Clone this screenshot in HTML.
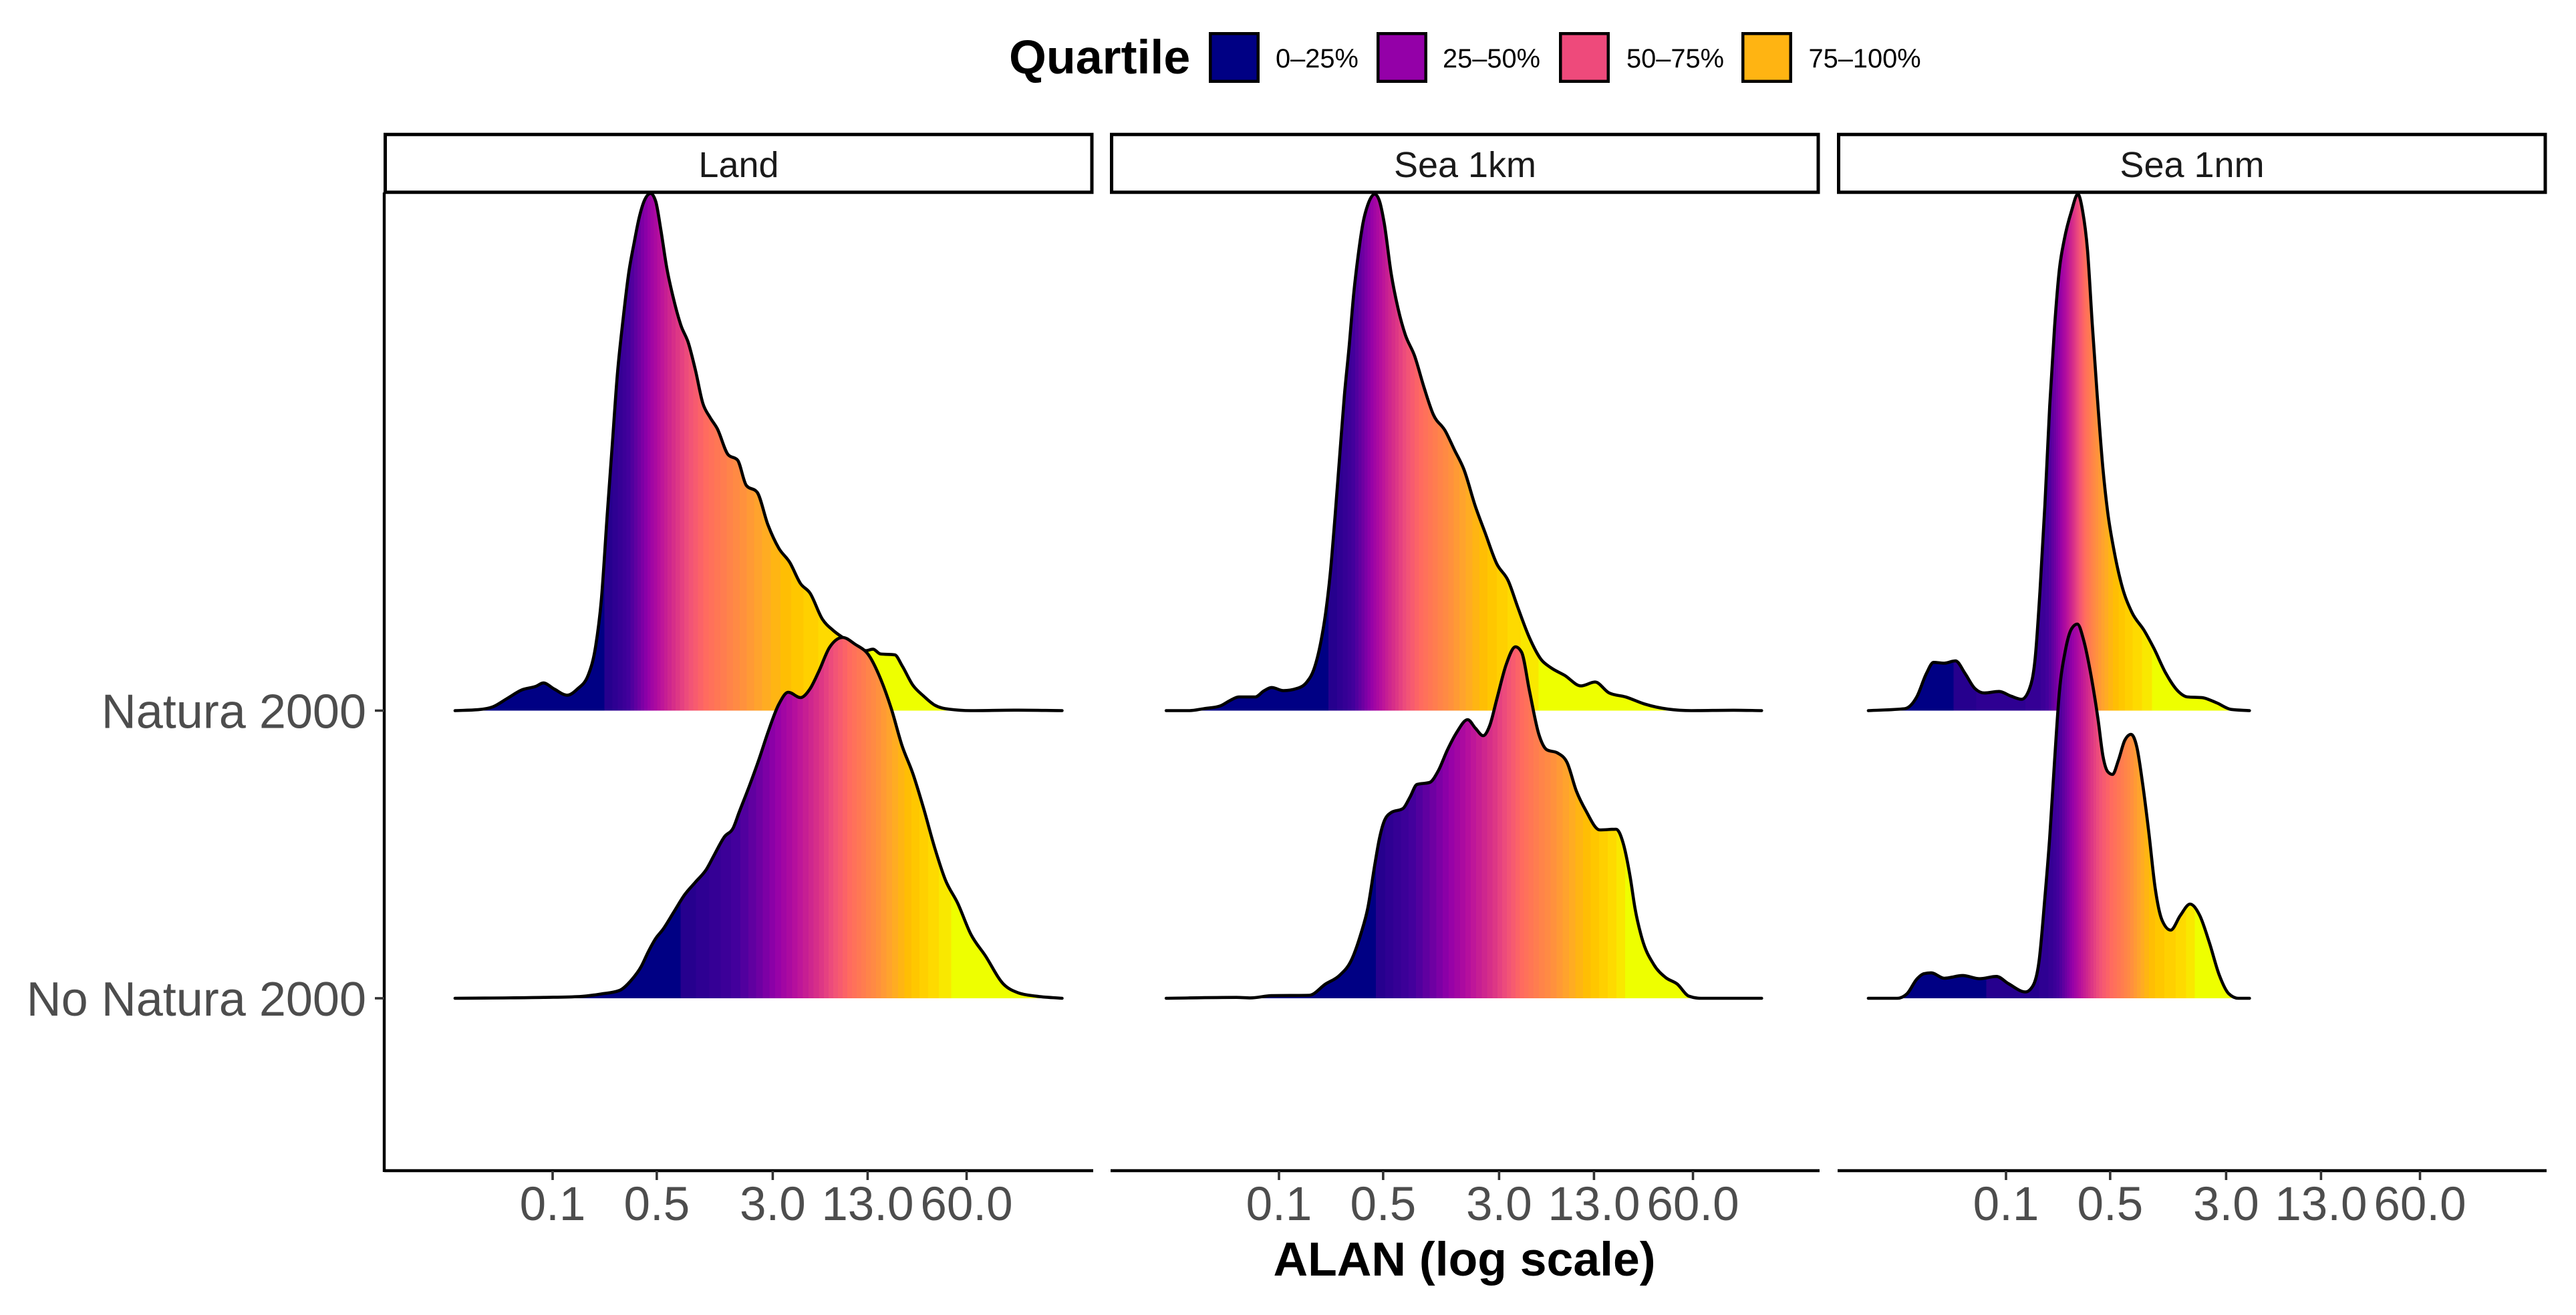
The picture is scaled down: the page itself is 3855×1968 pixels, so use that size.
<!DOCTYPE html>
<html lang="en">
<head>
<meta charset="utf-8">
<title>ALAN ridgeline density by quartile</title>
<style>
html,body{margin:0;padding:0;background:#fff;width:3855px;height:1968px;overflow:hidden}
svg{display:block}
text{font-family:"Liberation Sans",Arial,sans-serif}
</style>
</head>
<body>
<svg id="chart" xmlns="http://www.w3.org/2000/svg" width="3855" height="1968" viewBox="0 0 3855 1968">
<rect x="0" y="0" width="3855" height="1968" fill="#fff"/>
<g>
<text x="1510" y="110" font-size="71.8" font-weight="700" fill="#000">Quartile</text>
<rect x="1811.25" y="50.25" width="71.5" height="71.5" fill="#000084" stroke="#000" stroke-width="4.5"/>
<text x="1909" y="101" font-size="39.8" fill="#000">0–25%</text>
<rect x="2062.25" y="50.25" width="71.5" height="71.5" fill="#9400A8" stroke="#000" stroke-width="4.5"/>
<text x="2159" y="101" font-size="39.8" fill="#000">25–50%</text>
<rect x="2335.25" y="50.25" width="71.5" height="71.5" fill="#EE4A7B" stroke="#000" stroke-width="4.5"/>
<text x="2434" y="101" font-size="39.8" fill="#000">50–75%</text>
<rect x="2608.25" y="50.25" width="71.5" height="71.5" fill="#FFB412" stroke="#000" stroke-width="4.5"/>
<text x="2706.5" y="101" font-size="39.8" fill="#000">75–100%</text>
</g>
<text x="2191.5" y="1909" font-size="71.5" font-weight="700" fill="#000" text-anchor="middle">ALAN (log scale)</text>
<g id="plot"></g>
</svg>
<script>
// ---------- Categories and tick labels ----------
const rowLabels = ['Natura 2000', 'No Natura 2000'];
const panelNames = ['Land', 'Sea 1km', 'Sea 1nm'];
const tickValues = [0.1, 0.5, 3, 13, 60];
const tickLabels = ['0.1', '0.5', '3.0', '13.0', '60.0'];

// ---------- Land ----------
const landNaturaLogAlan = [-1.655,-1.5,-1.402,-1.305,-1.208,-1.111,-1.062,-0.989,-0.902,-0.834,-0.761,-0.712,-0.673,-0.634,-0.6,-0.566,-0.527,-0.488,-0.454,-0.42,-0.381,-0.342,-0.308,-0.274,-0.235,-0.187,-0.138,-0.09,-0.041,0.008,0.056,0.105,0.178,0.241,0.3,0.372,0.445,0.518,0.591,0.664,0.727,0.81,0.883,0.956,1.029,1.102,1.15,1.199,1.296,1.345,1.418,1.49,1.563,1.661,1.806,2.098,2.419];
const landNaturaDensity = [0,0.14,0.56,1.82,3.09,3.65,4.14,3.23,2.31,3.23,5.33,9.54,16.6,29.2,39.7,50.2,58.6,65.7,69.9,73.7,76.5,77.4,76.2,72,66.4,61.5,57.6,55.1,50.9,46,43.9,42.2,38.3,37.5,33.7,32.7,27.8,24.3,22.2,19,17.6,13.7,12,10.8,9.68,8.98,9.19,8.49,8.35,6.73,3.79,2.17,0.84,0.21,0,0.07,0];
const landNoNaturaLogAlan = [-1.655,-1.062,-0.819,-0.673,-0.552,-0.469,-0.406,-0.357,-0.308,-0.26,-0.187,-0.114,-0.041,0.032,0.081,0.154,0.212,0.251,0.324,0.387,0.445,0.518,0.581,0.664,0.727,0.786,0.858,0.946,1.029,1.126,1.199,1.272,1.345,1.418,1.49,1.563,1.636,1.719,1.806,1.904,2.025,2.122,2.244,2.419];
const landNoNaturaDensity = [0,0.13,0.26,0.65,1.17,2.79,4.74,7.01,8.96,10.3,12.9,15.5,17.4,19.3,21.3,24.2,25.5,27.8,32,35.9,39.8,44,45.8,45,46.3,48.9,52.5,54,53,51.2,47.9,43.4,37.8,33.6,28.4,22.6,17.7,14.2,9.61,6.36,2.14,0.84,0.32,0];

// ---------- Sea 1km ----------
const sea1kmNaturaLogAlan = [-1.757,-1.6,-1.505,-1.395,-1.332,-1.269,-1.159,-1.103,-1.049,-0.97,-0.876,-0.813,-0.766,-0.719,-0.687,-0.656,-0.624,-0.593,-0.561,-0.53,-0.498,-0.467,-0.436,-0.404,-0.357,-0.326,-0.294,-0.247,-0.2,-0.153,-0.09,-0.027,0.036,0.115,0.178,0.241,0.319,0.382,0.461,0.539,0.602,0.681,0.76,0.823,0.917,1.027,1.121,1.216,1.326,1.452,1.609,1.767,2.05,2.239];
const sea1kmNaturaDensity = [0,0,0.29,0.7,1.47,2.05,2.05,2.93,3.46,2.99,3.34,4.28,6.16,10.3,14.6,20.5,29,38,47.2,54.3,62.5,68.4,73,75.7,77.3,76.3,73,65.4,60.1,56.3,53.1,48.4,44.3,41.9,39,36.1,30.5,26.7,22,19.4,15.5,10.9,7.63,6.45,5.28,3.7,4.28,2.64,2.05,1,0.23,0,0.06,0];
const sea1kmNoNaturaLogAlan = [-1.757,-1.285,-1.191,-1.049,-0.797,-0.687,-0.593,-0.514,-0.451,-0.404,-0.357,-0.326,-0.294,-0.247,-0.168,-0.121,-0.074,0.011,0.068,0.131,0.193,0.266,0.319,0.37,0.414,0.461,0.524,0.587,0.628,0.681,0.744,0.797,0.87,0.933,0.996,1.059,1.153,1.263,1.31,1.358,1.389,1.436,1.515,1.594,1.672,1.751,1.83,2.239];
const sea1kmNoNaturaDensity = [0,0.13,0.06,0.39,0.45,2.14,3.44,5.71,9.61,13.5,20,23.9,26.5,27.8,28.4,30.1,32,32.3,34,37.2,39.8,41.7,40.4,39.3,40.8,44.7,49.9,52.6,51.8,46,39.5,37.2,36.7,35.3,31,28.1,25.2,25.3,23.2,18,13.5,8.96,5.06,3.12,2.14,0.32,0,0];

// ---------- Sea 1nm ----------
const sea1nmNaturaLogAlan = [-1.924,-1.68,-1.599,-1.534,-1.486,-1.414,-1.339,-1.275,-1.21,-1.145,-1.047,-0.966,-0.895,-0.843,-0.804,-0.772,-0.739,-0.707,-0.674,-0.642,-0.609,-0.56,-0.518,-0.486,-0.453,-0.421,-0.388,-0.349,-0.317,-0.278,-0.22,-0.155,-0.073,-0.009,0.073,0.154,0.218,0.316,0.413,0.511,0.634];
const sea1nmNaturaDensity = [0,0.29,2.05,5.57,7.22,7.1,7.45,5.57,3.34,2.64,2.87,2.17,1.7,3.23,7.92,17.9,30.8,45.5,57.5,66,70.5,74.8,77.3,74.8,68.9,57.8,47.2,36.1,29.6,24.3,18.5,14.7,12,9.39,5.57,2.93,2.05,1.94,1.17,0.18,0];
const sea1nmNoNaturaLogAlan = [-1.924,-1.729,-1.664,-1.599,-1.551,-1.502,-1.414,-1.291,-1.177,-1.064,-0.983,-0.869,-0.82,-0.778,-0.739,-0.707,-0.674,-0.642,-0.603,-0.56,-0.521,-0.479,-0.431,-0.382,-0.349,-0.317,-0.285,-0.246,-0.203,-0.161,-0.122,-0.083,-0.041,0.001,0.047,0.105,0.17,0.235,0.3,0.365,0.43,0.495,0.559,0.634];
const sea1nmNoNaturaDensity = [0,0,0.68,2.86,3.68,3.81,3,3.41,2.93,3.27,2.18,0.95,1.84,5.59,15.1,24,35.6,45.8,51.9,55.3,56,53.6,48.5,41.7,36.2,33.9,33.5,35.6,38.6,39.5,37.6,32.1,24.7,16.5,11.7,10.2,12.4,14.1,12.4,8.31,3.54,0.68,0,0];

// ---------- Colour ramp (ecdf level -> colour) ----------
const rampLevels = [0, 0.045, 0.055, 0.15, 0.275, 0.36, 0.45, 0.525, 0.6, 0.726, 0.8, 0.86, 0.92, 0.95, 0.96, 1];
const rampColors = ['#000084','#000084','#26008E','#44009C','#9400A8','#B8109C','#D83088','#F0507A','#FF6A60','#FF8C42','#FFA828','#FFC000','#FFD800','#F8EC00','#EEFF00','#EEFF00'];

const SVG_NS = 'http://www.w3.org/2000/svg';
const plot = document.getElementById('plot');
const panelLeft = [575, 1662, 2750];
const panelWidth = 1061;
const panelTop = 288;
const panelBottom = 1752;

function xScale(panel, logValue) {
  return panelLeft[panel] + 252 + 223 * (logValue + 1);
}
function rowBase(row) {
  return 1063.5 + 430.5 * row;
}
function yScale(row, density) {
  return rowBase(row) - density * 10;
}
function make(tag, attrs, parent) {
  const el = document.createElementNS(SVG_NS, tag);
  for (const k in attrs) el.setAttribute(k, attrs[k]);
  parent.appendChild(el);
  return el;
}
function hexToRgb(h) {
  return [parseInt(h.slice(1, 3), 16), parseInt(h.slice(3, 5), 16), parseInt(h.slice(5, 7), 16)];
}
function rampColor(t) {
  for (let i = 1; i < rampLevels.length; i++) {
    if (t <= rampLevels[i]) {
      const a = hexToRgb(rampColors[i - 1]);
      const b = hexToRgb(rampColors[i]);
      const span = rampLevels[i] - rampLevels[i - 1];
      const f = span > 0 ? (t - rampLevels[i - 1]) / span : 0;
      return 'rgb(' + a.map((v, j) => Math.round(v + (b[j] - v) * f)).join(',') + ')';
    }
  }
  return rampColors[rampColors.length - 1];
}
// Monotone cubic path through the points (limited weighted tangents)
function smoothPath(px, py) {
  const n = px.length;
  const slopes = [];
  const widths = [];
  for (let i = 0; i < n - 1; i++) {
    widths.push(px[i + 1] - px[i]);
    slopes.push((py[i + 1] - py[i]) / (px[i + 1] - px[i]));
  }
  const tang = [slopes[0]];
  for (let i = 1; i < n - 1; i++) {
    const s0 = slopes[i - 1];
    const s1 = slopes[i];
    const p = (s0 * widths[i] + s1 * widths[i - 1]) / (widths[i - 1] + widths[i]);
    tang.push((Math.sign(s0) + Math.sign(s1)) * Math.min(Math.abs(s0), Math.abs(s1), 0.5 * Math.abs(p)));
  }
  tang.push(slopes[n - 2]);
  let d = 'M' + px[0].toFixed(2) + ' ' + py[0].toFixed(2);
  for (let i = 0; i < n - 1; i++) {
    const h = (px[i + 1] - px[i]) / 3;
    d += 'C' + (px[i] + h).toFixed(2) + ' ' + (py[i] + tang[i] * h).toFixed(2) + ' ' +
      (px[i + 1] - h).toFixed(2) + ' ' + (py[i + 1] - tang[i + 1] * h).toFixed(2) + ' ' +
      px[i + 1].toFixed(2) + ' ' + py[i + 1].toFixed(2);
  }
  return d;
}
function drawRidge(panel, row, logAlan, density, name) {
  const group = make('g', {}, plot);
  
  
  const px = logAlan.map(v => xScale(panel, v));
  const py = density.map(v => yScale(row, v));
  const line = smoothPath(px, py);
  const base = rowBase(row);
  const clipId = 'clip-' + name;
  const clip = make('clipPath', { id: clipId }, group);
  make('path', { d: line + 'L' + px[px.length - 1] + ' ' + base + 'L' + px[0] + ' ' + base + 'Z' }, clip);
  // empirical CDF along the grid
  const cum = [0];
  for (let i = 1; i < logAlan.length; i++) {
    cum.push(cum[i - 1] + (density[i] + density[i - 1]) / 2 * (logAlan[i] - logAlan[i - 1]));
  }
  const total = cum[cum.length - 1];
  const invert = t => {
    const target = t * total;
    for (let i = 1; i < cum.length; i++) {
      if (cum[i] >= target) {
        const f = (target - cum[i - 1]) / Math.max(cum[i] - cum[i - 1], 1e-9);
        return logAlan[i - 1] + f * (logAlan[i] - logAlan[i - 1]);
      }
    }
    return logAlan[logAlan.length - 1];
  };
  const fillGroup = make('g', { 'clip-path': 'url(#' + clipId + ')' }, group);
  
  
  const edges = [0];
  for (let t = 0.045; t < 0.9526; t += 0.0228) edges.push(t);
  edges.push(0.955);
  edges.push(1);
  const topY = Math.min.apply(null, py) - 4;
  for (let b = 0; b < edges.length - 1; b++) {
    const x0 = xScale(panel, invert(edges[b]));
    const x1 = b === edges.length - 2 ? px[px.length - 1] : xScale(panel, invert(edges[b + 1]));
    const band = make('rect', {
      x: x0.toFixed(2), y: topY.toFixed(2),
      width: (x1 - x0 + 1.2).toFixed(2), height: (base - topY + 1).toFixed(2),
      fill: rampColor((edges[b] + edges[b + 1]) / 2),
      'shape-rendering': 'crispEdges'
    }, fillGroup);
    
    
  }
  const outline = make('path', {
    d: line, fill: 'none', stroke: '#000', 'stroke-width': 4.6,
    'stroke-linejoin': 'round', 'stroke-linecap': 'round'
  }, group);
  
  
}

const ridgeSeries = [
  [0, 0, landNaturaLogAlan, landNaturaDensity, 'land-natura-2000'],
  [0, 1, landNoNaturaLogAlan, landNoNaturaDensity, 'land-no-natura-2000'],
  [1, 0, sea1kmNaturaLogAlan, sea1kmNaturaDensity, 'sea-1km-natura-2000'],
  [1, 1, sea1kmNoNaturaLogAlan, sea1kmNoNaturaDensity, 'sea-1km-no-natura-2000'],
  [2, 0, sea1nmNaturaLogAlan, sea1nmNaturaDensity, 'sea-1nm-natura-2000'],
  [2, 1, sea1nmNoNaturaLogAlan, sea1nmNoNaturaDensity, 'sea-1nm-no-natura-2000']
];
ridgeSeries.forEach(s => drawRidge(s[0], s[1], s[2], s[3], s[4]));

// Facet strips
panelNames.forEach((name, p) => {
  const strip = make('rect', {
    x: panelLeft[p] + 1.5, y: 201.25, width: panelWidth - 3.5, height: 86.5,
    fill: '#fff', stroke: '#000', 'stroke-width': 5
  }, plot);
  
  
  const label = make('text', {
    x: panelLeft[p] + panelWidth / 2, y: 265, 'font-size': 54, fill: '#1A1A1A', 'text-anchor': 'middle'
  }, plot);
  
  
  label.textContent = name;
  const axis = make('line', {
    x1: panelLeft[p], x2: panelLeft[p] + panelWidth, y1: panelBottom, y2: panelBottom,
    stroke: '#000', 'stroke-width': 4.4
  }, plot);
  
  
  tickValues.forEach((v, i) => {
    const x = xScale(p, Math.log10(v));
    const tick = make('line', {
      x1: x, x2: x, y1: panelBottom, y2: panelBottom + 14,
      stroke: '#333', 'stroke-width': 3.6
    }, plot);
    
    
    const lab = make('text', {
      x: x, y: 1826, 'font-size': 71, fill: '#4D4D4D', 'text-anchor': 'middle'
    }, plot);
    
    
    lab.textContent = tickLabels[i];
  });
});

// Y axis
const yAxis = make('line', {
  x1: panelLeft[0], x2: panelLeft[0], y1: panelTop, y2: panelBottom + 2,
  stroke: '#000', 'stroke-width': 4.4
}, plot);


rowLabels.forEach((name, r) => {
  const tick = make('line', {
    x1: panelLeft[0] - 14, x2: panelLeft[0], y1: rowBase(r), y2: rowBase(r),
    stroke: '#333', 'stroke-width': 3.6
  }, plot);
  
  
  const lab = make('text', {
    x: 548, y: rowBase(r) + 26, 'font-size': 72, fill: '#4D4D4D', 'text-anchor': 'end'
  }, plot);
  
  
  lab.textContent = name;
});
</script>
</body>
</html>
